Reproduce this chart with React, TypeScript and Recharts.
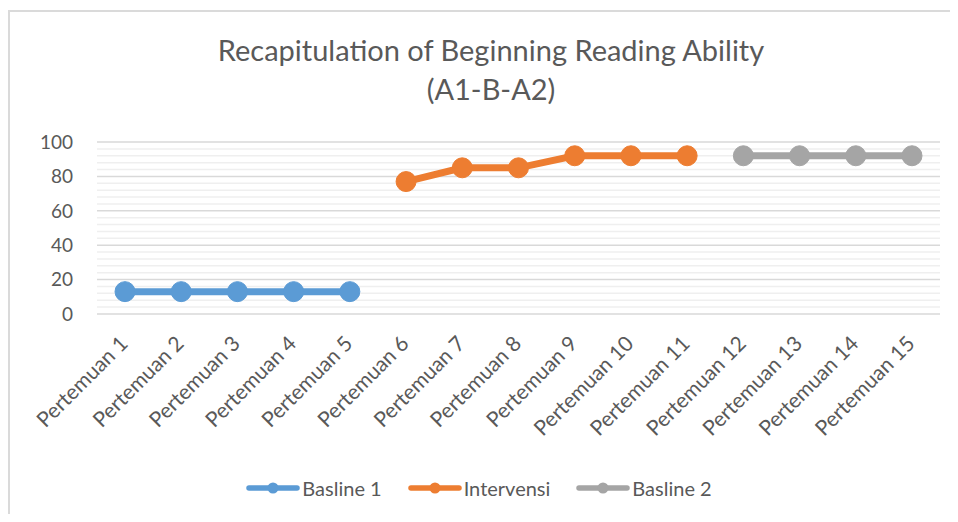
import React from 'react';
import { LineChart, Line, XAxis, YAxis, CartesianGrid, Legend, ReferenceLine } from 'recharts';

const categories = [
  'Pertemuan 1', 'Pertemuan 2', 'Pertemuan 3', 'Pertemuan 4', 'Pertemuan 5',
  'Pertemuan 6', 'Pertemuan 7', 'Pertemuan 8', 'Pertemuan 9', 'Pertemuan 10',
  'Pertemuan 11', 'Pertemuan 12', 'Pertemuan 13', 'Pertemuan 14', 'Pertemuan 15',
];
const basline1 = [13, 13, 13, 13, 13, null, null, null, null, null, null, null, null, null, null];
const intervensi = [null, null, null, null, null, 77, 85, 85, 92, 92, 92, null, null, null, null];
const basline2 = [null, null, null, null, null, null, null, null, null, null, null, 92, 92, 92, 92];
const yTicks = [0, 20, 40, 60, 80, 100];
const yMinor = [4, 8, 12, 16, 24, 28, 32, 36, 44, 48, 52, 56, 64, 68, 72, 76, 84, 88, 92, 96];
const titleLines = ['Recapitulation of Beginning Reading Ability', '(A1-B-A2)'];

const seriesInfo = [
  { key: 'b1', name: 'Basline 1', color: '#5B9BD5' },
  { key: 'iv', name: 'Intervensi', color: '#ED7D31' },
  { key: 'b2', name: 'Basline 2', color: '#A5A5A5' },
];

const data = categories.map((c, i) => ({ name: c, b1: basline1[i], iv: intervensi[i], b2: basline2[i] }));

const FONT = 'Lato, "Open Sans", sans-serif';
const TXT = '#595959';

const XTick = (props: any) => {
  const { x, y, payload } = props;
  return (
    <text transform={`translate(${x + 4},${y + 31}) rotate(-45)`} textAnchor="end" fill={TXT} fontSize={21} fontFamily={FONT}>
      {payload.value}
    </text>
  );
};

const LegendContent = () => (
  <div style={{ display: 'flex', justifyContent: 'center', alignItems: 'center', fontFamily: FONT, fontSize: 20, color: TXT }}>
    {seriesInfo.map((s, i) => (
      <div key={s.key} style={{ display: 'flex', alignItems: 'center', marginRight: i < seriesInfo.length - 1 ? 26 : 0 }}>
        <svg width={54} height={14} style={{ marginRight: 2 }}>
          <line x1={3} y1={7} x2={51} y2={7} stroke={s.color} strokeWidth={5.5} strokeLinecap="round" />
          <circle cx={27} cy={7} r={5.5} fill={s.color} />
        </svg>
        <span>{s.name}</span>
      </div>
    ))}
  </div>
);

export default function App() {
  return (
    <div style={{ position: 'relative', width: 942, height: 506, overflow: 'hidden', background: '#fff' }}>
      <div style={{ position: 'absolute', left: 0, top: 2, width: 1000, height: 1000, border: '2px solid #DADADA', boxSizing: 'border-box' }} />
      <svg width={942} height={120} style={{ position: 'absolute', left: 0, top: 0 }}>
        <text x={483} y={53} textAnchor="middle" fill={TXT} fontSize={29} fontFamily={FONT}>{titleLines[0]}</text>
        <text x={483} y={92} textAnchor="middle" fill={TXT} fontSize={29} fontFamily={FONT}>{titleLines[1]}</text>
      </svg>
      <div style={{ position: 'absolute', left: 0, top: 0 }}>
        <LineChart width={942} height={506} data={data} margin={{ top: 134, right: 10, left: 0, bottom: 80 }}>
          {yMinor.map((v) => (
            <ReferenceLine key={v} y={v} stroke="#EFEFEF" strokeWidth={1.5} ifOverflow="visible" />
          ))}
          <CartesianGrid vertical={false} stroke="#D9D9D9" strokeWidth={1.5} />
          <XAxis dataKey="name" interval={0} height={120} axisLine={false} tickLine={false} tickSize={0} tickMargin={0}
            padding={{ left: 28, right: 28 }} tick={<XTick />} />
          <YAxis domain={[0, 100]} ticks={yTicks} width={89} axisLine={false} tickLine={false} tickSize={0} tickMargin={24}
            tick={{ fill: TXT, fontSize: 19, fontFamily: FONT }} />
          <Legend layout="horizontal" verticalAlign="middle" align="center" content={<LegendContent />}
            wrapperStyle={{ top: 468, left: 0, width: 942 }} />
          {seriesInfo.map((s) => (
            <Line key={s.key} dataKey={s.key} name={s.name} stroke={s.color} strokeWidth={7}
              dot={{ r: 10, fill: s.color, stroke: s.color, strokeWidth: 1 }} activeDot={false}
              connectNulls={false} isAnimationActive={false} legendType="line" />
          ))}
        </LineChart>
      </div>
    </div>
  );
}
